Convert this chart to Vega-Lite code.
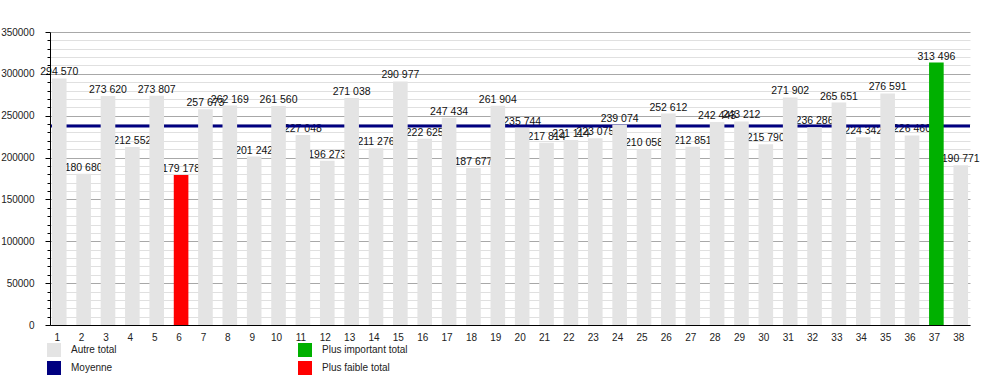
{
  "$schema": "https://vega.github.io/schema/vega-lite/v6.json",
  "width": 920,
  "height": 293,
  "autosize": {"type": "none"},
  "padding": {"left": 50, "top": 32, "right": 30, "bottom": 50},
  "background": "white",
  "config": {
    "font": "Liberation Sans",
    "view": {"stroke": null},
    "locale": {"number": {"decimal": ",", "thousands": " ", "grouping": [3], "currency": ["", " €"]}}
  },
  "datasets": {
    "totaux": [
      {"n": 1, "total": 294570, "serie": "Autre total"},
      {"n": 2, "total": 180680, "serie": "Autre total"},
      {"n": 3, "total": 273620, "serie": "Autre total"},
      {"n": 4, "total": 212552, "serie": "Autre total"},
      {"n": 5, "total": 273807, "serie": "Autre total"},
      {"n": 6, "total": 179178, "serie": "Plus faible total"},
      {"n": 7, "total": 257673, "serie": "Autre total"},
      {"n": 8, "total": 262169, "serie": "Autre total"},
      {"n": 9, "total": 201242, "serie": "Autre total"},
      {"n": 10, "total": 261560, "serie": "Autre total"},
      {"n": 11, "total": 227048, "serie": "Autre total"},
      {"n": 12, "total": 196273, "serie": "Autre total"},
      {"n": 13, "total": 271038, "serie": "Autre total"},
      {"n": 14, "total": 211276, "serie": "Autre total"},
      {"n": 15, "total": 290977, "serie": "Autre total"},
      {"n": 16, "total": 222625, "serie": "Autre total"},
      {"n": 17, "total": 247434, "serie": "Autre total"},
      {"n": 18, "total": 187677, "serie": "Autre total"},
      {"n": 19, "total": 261904, "serie": "Autre total"},
      {"n": 20, "total": 235744, "serie": "Autre total"},
      {"n": 21, "total": 217814, "serie": "Autre total"},
      {"n": 22, "total": 221114, "serie": "Autre total"},
      {"n": 23, "total": 223075, "serie": "Autre total"},
      {"n": 24, "total": 239074, "serie": "Autre total"},
      {"n": 25, "total": 210058, "serie": "Autre total"},
      {"n": 26, "total": 252612, "serie": "Autre total"},
      {"n": 27, "total": 212851, "serie": "Autre total"},
      {"n": 28, "total": 242443, "serie": "Autre total"},
      {"n": 29, "total": 243212, "serie": "Autre total"},
      {"n": 30, "total": 215790, "serie": "Autre total"},
      {"n": 31, "total": 271902, "serie": "Autre total"},
      {"n": 32, "total": 236286, "serie": "Autre total"},
      {"n": 33, "total": 265651, "serie": "Autre total"},
      {"n": 34, "total": 224342, "serie": "Autre total"},
      {"n": 35, "total": 276591, "serie": "Autre total"},
      {"n": 36, "total": 226460, "serie": "Autre total"},
      {"n": 37, "total": 313496, "serie": "Plus important total"},
      {"n": 38, "total": 190771, "serie": "Autre total"}
    ],
    "moyenne": [{"moyenne": 237700}]
  },
  "resolve": {"axis": {"y": "independent"}},
  "layer": [
    {
      "data": {"name": "totaux"},
      "mark": {"type": "text", "baseline": "bottom", "dy": -1, "fontSize": 10.5, "color": "#111111"},
      "encoding": {
        "x": {
          "field": "n", "type": "ordinal",
          "scale": {"paddingInner": 0.4, "paddingOuter": 0.08},
          "axis": {"title": null, "labelAngle": 0, "ticks": false, "tickSize": 0, "tickOpacity": 0, "domainColor": "#000000", "labelFontSize": 10, "labelColor": "#222222", "labelPadding": 7, "labelOffset": -2, "zindex": 1}
        },
        "y": {
          "field": "total", "type": "quantitative",
          "scale": {"domain": [0, 350000]},
          "axis": {
            "title": null,
            "orient": "left",
            "grid": false,
            "values": [0,10000,20000,30000,40000,50000,60000,70000,80000,90000,100000,110000,120000,130000,140000,150000,160000,170000,180000,190000,200000,210000,220000,230000,240000,250000,260000,270000,280000,290000,300000,310000,320000,330000,340000,350000],
            "tickCount": 40,
            "format": "d",
            "labelExpr": "datum.value % 50000 === 0 ? datum.label : ''",
            "labelOverlap": false,
            "labelFontSize": 10,
            "labelColor": "#222222",
            "labelPadding": 11,
            "domainColor": "#000000",
            "tickColor": "#000000",
            "tickSize": {"condition": {"test": "datum.value % 50000 === 0", "value": 5}, "value": 3},
            "zindex": 1
          }
        },
        "text": {"field": "total", "type": "quantitative", "format": ",d"}
      }
    },
    {
      "data": {"name": "moyenne"},
      "mark": {"type": "rule", "color": "#000080", "strokeWidth": 3},
      "encoding": {
        "y": {
          "field": "moyenne", "type": "quantitative",
          "axis": {
            "title": null,
            "orient": "right",
            "grid": true,
            "domain": false,
            "ticks": false,
            "labels": false,
            "values": [0,10000,20000,30000,40000,50000,60000,70000,80000,90000,100000,110000,120000,130000,140000,150000,160000,170000,180000,190000,200000,210000,220000,230000,240000,250000,260000,270000,280000,290000,300000,310000,320000,330000,340000,350000],
            "tickCount": 40,
            "gridColor": {"condition": {"test": "datum.value % 50000 === 0", "value": "#a8a8a8"}, "value": "#e0e0e0"},
            "zindex": 0
          }
        }
      }
    },
    {
      "data": {"name": "totaux"},
      "mark": {"type": "bar"},
      "encoding": {
        "x": {
          "field": "n", "type": "ordinal",
          "axis": {"title": null, "labelAngle": 0, "ticks": false, "tickSize": 0, "tickOpacity": 0, "domainColor": "#000000", "labelFontSize": 10, "labelColor": "#222222", "labelPadding": 7, "labelOffset": -2, "zindex": 1}
        },
        "y": {"field": "total", "type": "quantitative", "axis": null},
        "color": {
          "field": "serie", "type": "nominal",
          "scale": {
            "domain": ["Autre total", "Plus important total", "Moyenne", "Plus faible total"],
            "range": ["#e4e4e4", "#00b000", "#000080", "#ff0000"]
          },
          "legend": {
            "orient": "none", "legendX": -3, "legendY": 311,
            "direction": "horizontal", "columns": 2, "title": null,
            "symbolType": "square", "symbolSize": 196, "symbolStrokeWidth": 0,
            "labelFontSize": 10, "labelColor": "#222222", "labelOffset": 10,
            "columnPadding": 181, "rowPadding": 4, "padding": 0
          }
        }
      }
    }
  ]
}
